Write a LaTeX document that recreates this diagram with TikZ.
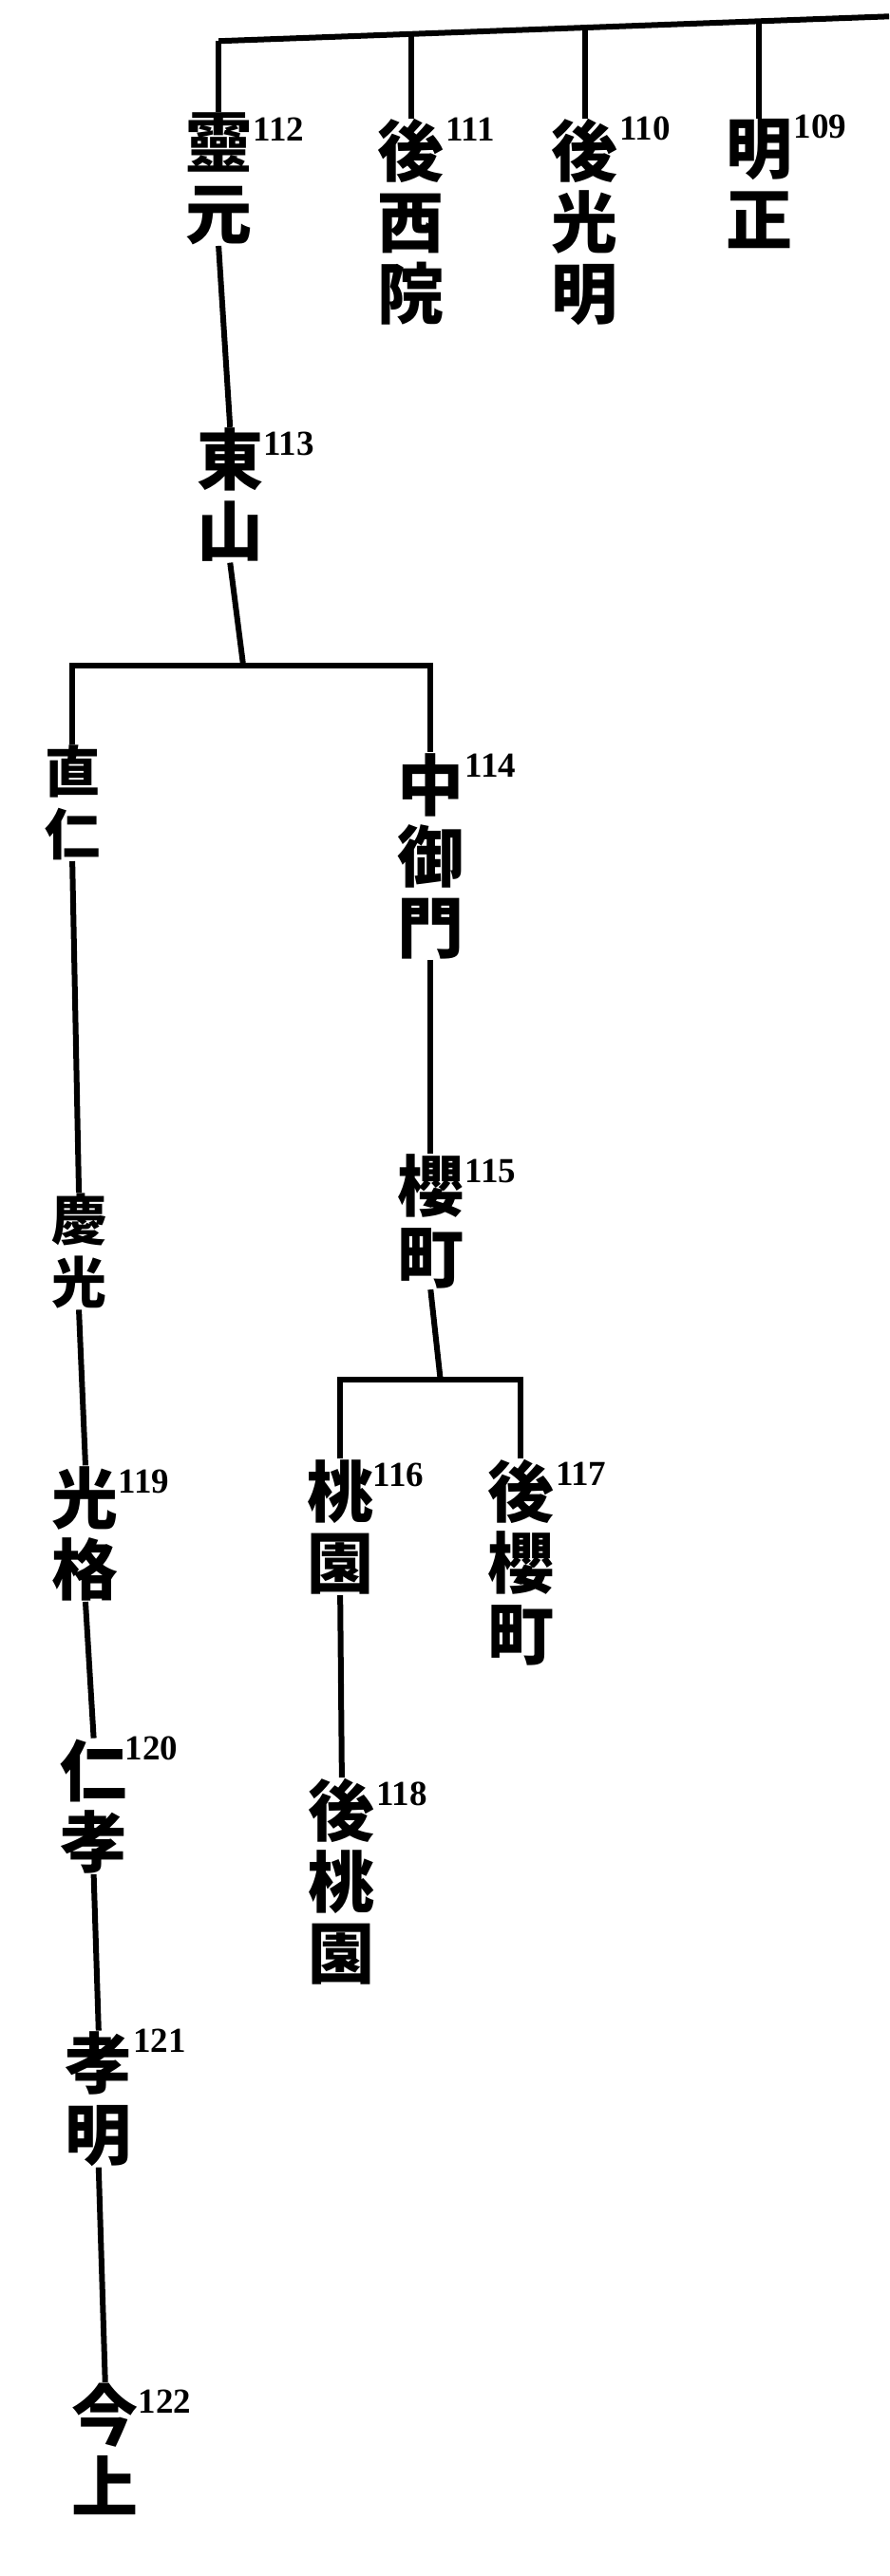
\documentclass[tikz,border=0pt]{standalone}
\usepackage{fontspec}
\newfontfamily\cjk{Noto Sans CJK JP}
\newfontfamily\cjktc{Noto Sans CJK TC}
\newfontfamily\numf{Liberation Serif}
\begin{document}
\begin{tikzpicture}[x=1.73pt,y=-1.73pt,
  nm/.style={anchor=north,inner sep=0pt,outer sep=1pt,align=center,font=\cjk\bfseries\fontsize{70}{75}\selectfont},
  nms/.style={nm,font=\cjk\bfseries\fontsize{58}{66}\selectfont},
  sup/.style={anchor=west,inner sep=0pt,font=\numf\bfseries\fontsize{37}{37}\selectfont},
  ln/.style={line width=6pt}]
\fill[white] (0,0) rectangle (541,1568);
\useasboundingbox (0,0) rectangle (541,1568);
% top generation
\node[nm] (a) at (133,68) {{\cjktc 靈}\\元};
\node[nm] (b) at (250,72) {後\\西\\院};
\node[nm] (c) at (356,72) {後\\光\\明};
\node[nm] (d) at (462,72) {明\\正};
\node[sup] at (154,79) {112};
\node[sup] at (271,79) {111};
\node[sup] at (377,78) {110};
\node[sup] at (483,77) {109};
\coordinate (topL) at (133,25);
\coordinate (topR) at (541,10);
\coordinate (jb) at (250,20.7);
\coordinate (jc) at (356,16.8);
\coordinate (jd) at (462,12.9);
\draw[ln] (topL) -- (topR);
\draw[ln] (topL) -- (a.north);
\draw[ln] (jb) -- (b.north);
\draw[ln] (jc) -- (c.north);
\draw[ln] (jd) -- (d.north);
% Higashiyama
\node[nm] (e) at (140,260) {東\\山};
\node[sup] at (160,270) {113};
\draw[ln] (a.south) -- (e.north);
\coordinate (s1) at (148,405);
\draw[ln] (e.south) -- (s1);
\node[nms] (f) at (44,453) {直\\仁};
\node[nm] (g) at (262,458) {中\\御\\門};
\node[sup] at (283,466) {114};
\draw[ln] (f.north) |- (s1) -| (g.north);
% left line
\node[nms] (h) at (48,726) {慶\\光};
\draw[ln] (f.south) -- (h.north);
\node[nm] (i) at (52,892) {光\\格};
\node[sup] at (72,902) {119};
\draw[ln] (h.south) -- (i.north);
\node[nm] (j) at (57,1058) {仁\\孝};
\node[sup] at (76,1064) {120};
\draw[ln] (i.south) -- (j.north);
\node[nm] (k) at (60,1236) {孝\\明};
\node[sup] at (81,1242) {121};
\draw[ln] (j.south) -- (k.north);
\node[nm] (l) at (64,1450) {今\\上};
\node[sup] at (84,1462) {122};
\draw[ln] (k.south) -- (l.north);
% right line
\node[nm] (m) at (262,702) {櫻\\町};
\node[sup] at (283,713) {115};
\draw[ln] (g.south) -- (m.north);
\coordinate (s2) at (268,840);
\draw[ln] (m.south) -- (s2);
\node[nm] (n) at (207,888) {桃\\園};
\node[sup] at (227,898) {116};
\node[nm] (o) at (317,888) {後\\櫻\\町};
\node[sup] at (338,897) {117};
\draw[ln] (n.north) |- (s2) -| (o.north);
\node[nm] (p) at (208,1082) {後\\桃\\園};
\node[sup] at (229,1092) {118};
\draw[ln] (n.south) -- (p.north);
\end{tikzpicture}
\end{document}
